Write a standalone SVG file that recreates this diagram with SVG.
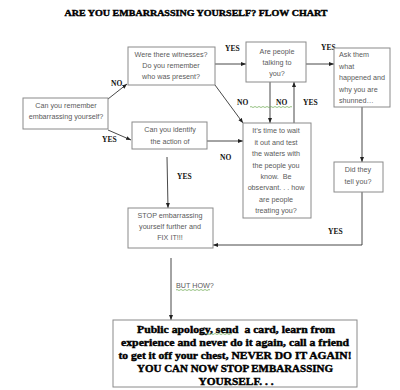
<svg xmlns="http://www.w3.org/2000/svg" width="400" height="390" viewBox="0 0 400 390">
<style>
.box{fill:#fff;stroke:#8a8a8a;stroke-width:1}
.t{font-family:"Liberation Sans",Arial,sans-serif;font-size:7.2px;fill:#5a5a5a;text-anchor:middle}
.tl{font-family:"Liberation Sans",Arial,sans-serif;font-size:7.2px;fill:#5a5a5a}
.lbl{font-family:"Liberation Serif","Times New Roman",serif;font-size:7.5px;font-weight:bold;fill:#111}
.c{fill:none;stroke:#333;stroke-width:0.9}
.big{font-family:"Liberation Serif","Times New Roman",serif;font-weight:bold;fill:#000;stroke:#000;stroke-width:0.4;text-anchor:middle}
.wave{fill:none;stroke:#6aa84f;stroke-width:0.7}
</style>
<defs>
<marker id="ah" markerWidth="6" markerHeight="6" refX="5" refY="3" orient="auto" markerUnits="userSpaceOnUse">
<path d="M0,1 L5,3 L0,5 Z" fill="#222"/>
</marker>
</defs>
<rect width="400" height="390" fill="#fff"/>
<text class="big" x="196" y="16" font-size="9" textLength="263" lengthAdjust="spacingAndGlyphs" stroke-width="0.5">ARE YOU EMBARRASSING YOURSELF? FLOW CHART</text>

<g id="connectors">
<line class="c" x1="108" y1="99" x2="127" y2="84" marker-end="url(#ah)"/>
<line class="c" x1="108" y1="130" x2="131" y2="140" marker-end="url(#ah)"/>
<line class="c" x1="215" y1="64" x2="246" y2="64" marker-end="url(#ah)"/>
<line class="c" x1="306" y1="64" x2="334" y2="64" marker-end="url(#ah)"/>
<line class="c" x1="215" y1="85" x2="243" y2="123" marker-end="url(#ah)"/>
<line class="c" x1="270" y1="82" x2="270" y2="123" marker-end="url(#ah)"/>
<line class="c" x1="294" y1="123" x2="294" y2="82" marker-end="url(#ah)"/>
<line class="c" x1="207" y1="141" x2="243" y2="141" marker-end="url(#ah)"/>
<line class="c" x1="167" y1="157" x2="168" y2="208" marker-end="url(#ah)"/>
<line class="c" x1="362" y1="107" x2="362" y2="162" marker-end="url(#ah)"/>
<polyline class="c" points="362,192 362,245 213,245" marker-end="url(#ah)"/>
<line class="c" x1="171" y1="258" x2="171" y2="320" marker-end="url(#ah)"/>
</g>

<g id="labels">
<text class="lbl" x="111" y="86">NO</text>
<text class="lbl" x="102" y="142">YES</text>
<text class="lbl" x="225" y="51">YES</text>
<text class="lbl" x="321" y="50">YES</text>
<text class="lbl" x="237" y="105">NO</text>
<text class="lbl" x="276" y="105">NO</text>
<text class="lbl" x="303" y="105">YES</text>
<path class="wave" d="M250,107 q1,-1 2,0 t2,0 t2,0 t2,0 t2,0 t2,0 t2,0 t2,0 t2,0 t2,0 t2,0 t2,0 t2,0 t2,0 t2,0 t2,0 t2,0 t2,0 t2,0 t2,0 t2,0"/>
<text class="lbl" x="220" y="160">NO</text>
<text class="lbl" x="177" y="179">YES</text>
<text class="lbl" x="328" y="234">YES</text>
<text class="tl" x="176" y="288">BUT HOW?</text>
<path class="wave" d="M176,290 q1,-1 2,0 t2,0 t2,0 t2,0 t2,0 t2,0 t2,0 t2,0 t2,0 t2,0 t2,0 t2,0 t2,0 t2,0 t2,0 t2,0 t2,0"/>
</g>

<g id="n-remember">
<rect class="box" x="23" y="98" width="85" height="31"/>
<text class="t" x="66" y="108">Can you remember</text>
<text class="t" x="66" y="119">embarrassing yourself?</text>
</g>
<g id="n-witnesses">
<rect class="box" x="128" y="47" width="87" height="38"/>
<text class="t" x="171" y="57">Were there witnesses?</text>
<text class="t" x="171" y="68">Do you remember</text>
<text class="t" x="171" y="79">who was present?</text>
</g>
<g id="n-talking">
<rect class="box" x="246" y="42" width="60" height="40"/>
<text class="t" x="277" y="54">Are people</text>
<text class="t" x="277" y="65">talking to</text>
<text class="t" x="277" y="76">you?</text>
</g>
<g id="n-ask">
<rect class="box" x="334" y="48" width="56" height="59"/>
<text class="tl" x="339" y="57">Ask them</text>
<text class="tl" x="339" y="69">what</text>
<text class="tl" x="339" y="80">happened and</text>
<text class="tl" x="339" y="92">why you are</text>
<text class="tl" x="339" y="103">shunned…</text>
</g>
<g id="n-identify">
<rect class="box" x="132" y="122" width="75" height="27"/>
<text class="t" x="170" y="132">Can you identify</text>
<text class="t" x="170" y="144">the action of</text>
</g>
<g id="n-wait">
<rect class="box" x="243" y="123" width="68" height="95"/>
<text class="t" x="276" y="133">It’s time to wait</text>
<text class="t" x="276" y="145">it out and test</text>
<text class="t" x="276" y="156">the waters with</text>
<text class="t" x="276" y="168">the people you</text>
<text class="t" x="276" y="179">know.&#160; Be</text>
<text class="t" x="276" y="190">observant. . . how</text>
<text class="t" x="276" y="202">are people</text>
<text class="t" x="276" y="213">treating you?</text>
</g>
<g id="n-didthey">
<rect class="box" x="334" y="162" width="49" height="30"/>
<text class="t" x="358" y="172">Did they</text>
<text class="t" x="358" y="184">tell you?</text>
</g>
<g id="n-stop">
<rect class="box" x="128" y="208" width="85" height="40"/>
<text class="t" x="170" y="218">STOP embarrassing</text>
<text class="t" x="170" y="229">yourself further and</text>
<text class="t" x="170" y="240">FIX IT!!!</text>
</g>
<g id="n-how">
<rect class="box" x="113" y="320" width="244" height="67"/>
<text class="big" x="236" y="333" font-size="10" textLength="198" lengthAdjust="spacingAndGlyphs">Public apology, send&#160; a card, learn from</text>
<text class="big" x="235" y="346" font-size="10" textLength="228" lengthAdjust="spacingAndGlyphs">experience and never do it again, call a friend</text>
<text class="big" x="235" y="359" font-size="10" textLength="233" lengthAdjust="spacingAndGlyphs">to get it off your chest, NEVER DO IT AGAIN!</text>
<text class="big" x="235" y="372" font-size="10" textLength="196" lengthAdjust="spacingAndGlyphs">YOU CAN NOW STOP EMBARASSING</text>
<text class="big" x="236" y="385" font-size="10" textLength="75" lengthAdjust="spacingAndGlyphs">YOURSELF. . .</text>
<path class="wave" d="M206,334 q1,-1 2,0 t2,0 t2,0 t2,0 t2,0 t2,0 t2,0 t2,0 t2,0 t2,0 t2,0 t2,0 t2,0"/>
</g>
</svg>
